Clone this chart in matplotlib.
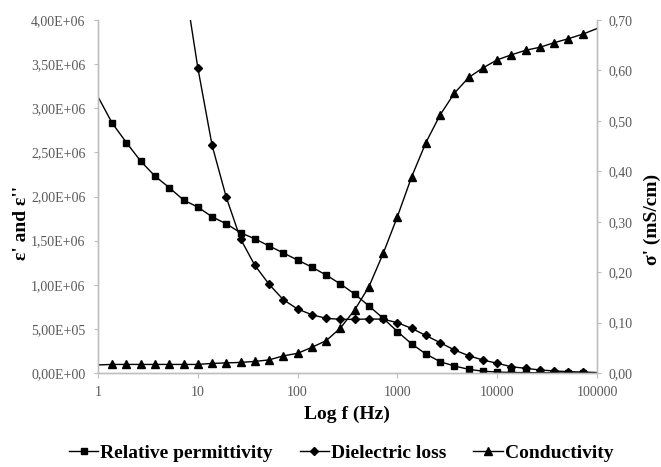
import matplotlib
matplotlib.use("Agg")
import matplotlib.pyplot as plt
from matplotlib.ticker import FuncFormatter, FixedLocator, NullLocator
from matplotlib.lines import Line2D

plt.rcParams['font.family'] = ['Liberation Serif', 'DejaVu Serif']

# Measurement frequencies (Hz), seven per decade
freq = [1, 1.39, 1.93, 2.68, 3.73, 5.18, 7.20,
        10, 13.9, 19.3, 26.8, 37.3, 51.8, 72.0,
        100, 139, 193, 268, 373, 518, 720,
        1000, 1389, 1931, 2683, 3728, 5179, 7197,
        10000, 13895, 19307, 26827, 37276, 51795, 71969, 100000]

# Relative permittivity eps'
permittivity = [3.13e6, 2.83e6, 2.61e6, 2.40e6, 2.23e6, 2.10e6, 1.96e6,
                1.88e6, 1.77e6, 1.69e6, 1.59e6, 1.52e6, 1.44e6, 1.36e6,
                1.28e6, 1.20e6, 1.11e6, 1.01e6, 0.895e6, 0.76e6, 0.62e6,
                0.47e6, 0.33e6, 0.215e6, 0.128e6, 0.079e6, 0.042e6, 0.020e6,
                0.011e6, 0.006e6, 0.004e6, 0.003e6, 0.002e6, 0.001e6, 0.001e6, 0.0005e6]

# Dielectric loss eps'' (from 7.2 Hz upward)
loss_freq = freq[6:]
loss = [4.5e6, 3.46e6, 2.58e6, 1.99e6, 1.52e6, 1.22e6, 1.005e6,
        0.83e6, 0.725e6, 0.66e6, 0.62e6, 0.608e6, 0.608e6, 0.612e6,
        0.61e6, 0.57e6, 0.506e6, 0.425e6, 0.343e6, 0.261e6, 0.196e6,
        0.147e6, 0.110e6, 0.071e6, 0.053e6, 0.034e6, 0.023e6, 0.015e6,
        0.011e6, 0.005e6]

# Conductivity sigma' (mS/cm)
conductivity = [0.016, 0.017, 0.017, 0.017, 0.017, 0.017, 0.017,
                0.017, 0.019, 0.020, 0.021, 0.023, 0.026, 0.034,
                0.039, 0.051, 0.064, 0.089, 0.125, 0.171, 0.237,
                0.310, 0.389, 0.457, 0.512, 0.555, 0.586, 0.605,
                0.621, 0.631, 0.640, 0.646, 0.655, 0.663, 0.672, 0.683]

x_ticks = [1, 10, 100, 1000, 10000, 100000]
x_ticklabels = ['1', '10', '100', '1000', '10000', '100000']
left_ticks = [0, 5e5, 1e6, 1.5e6, 2e6, 2.5e6, 3e6, 3.5e6, 4e6]
right_ticks = [0, 0.1, 0.2, 0.3, 0.4, 0.5, 0.6, 0.7]

labels = ['Relative permittivity', 'Dielectric loss', 'Conductivity']

axis_grey = '#BFBFBF'
text_grey = '#595959'

fig = plt.figure(figsize=(6.61, 4.67), dpi=100)
ax = fig.add_axes([98 / 661, 94 / 467, 499 / 661, 353 / 467])
ax2 = ax.twinx()

lw = 1.0
n = len(freq)
ax.plot(freq, permittivity, color='black', lw=lw, marker='s', ms=4.6,
        markevery=list(range(1, n - 1)), clip_on=True)
ax.plot(loss_freq, loss, color='black', lw=lw, marker='D', ms=4.0,
        markevery=list(range(0, len(loss_freq) - 1)), clip_on=True)
ax2.plot(freq, conductivity, color='black', lw=lw, marker='^', ms=5.6,
         markevery=list(range(1, n - 1)), clip_on=True)

for a in (ax, ax2):
    a.set_xscale('log')
    a.set_xlim(1, 100000)
    for s in a.spines.values():
        s.set_color(axis_grey)
        s.set_linewidth(1.0)
    a.spines['top'].set_visible(False)

ax.set_ylim(0, 4e6)
ax2.set_ylim(0, 0.7)

ax.xaxis.set_major_locator(FixedLocator(x_ticks))
ax.xaxis.set_minor_locator(NullLocator())
ax.set_xticklabels(x_ticklabels)
ax.yaxis.set_major_locator(FixedLocator(left_ticks))
ax.yaxis.set_major_formatter(FuncFormatter(lambda v, p: f"{v:.2E}".replace('.', ',')))
ax2.yaxis.set_major_locator(FixedLocator(right_ticks))
ax2.yaxis.set_major_formatter(FuncFormatter(lambda v, p: f"{v:.2f}".replace('.', ',')))

ax.tick_params(axis='x', which='major', direction='out', length=3.5, width=0.8,
               color=axis_grey, labelcolor=text_grey, labelsize=10, pad=6)
ax.tick_params(axis='y', direction='out', length=3, width=0.8,
               color=axis_grey, labelcolor=text_grey, labelsize=10, pad=6)
ax2.tick_params(axis='y', direction='out', length=3, width=0.8,
                color=axis_grey, labelcolor=text_grey, labelsize=10, pad=5)

# Axis titles
fig.text(347 / 661, 1 - 414 / 467, 'Log f (Hz)', ha='center', va='center',
         fontsize=14, fontweight='bold')
fig.text(21 / 661, 1 - 223 / 467, "ε' and ε''", ha='center', va='center',
         rotation=90, fontsize=14, fontweight='bold')
fig.text(652 / 661, 1 - 219 / 467, "σ' (mS/cm)", ha='center', va='center',
         rotation=90, fontsize=14, fontweight='bold')

handles = [
    Line2D([], [], color='black', lw=lw, marker='s', ms=4.6),
    Line2D([], [], color='black', lw=lw, marker='D', ms=4.0),
    Line2D([], [], color='black', lw=lw, marker='^', ms=5.6),
]
fig.legend(handles, labels, loc='center', bbox_to_anchor=(341 / 661, 1 - 453 / 467),
           ncol=3, frameon=False, handlelength=1.5, handletextpad=0.1,
           columnspacing=1.4, prop={'size': 14, 'weight': 'bold'})

fig.savefig('out.png', dpi=100)
